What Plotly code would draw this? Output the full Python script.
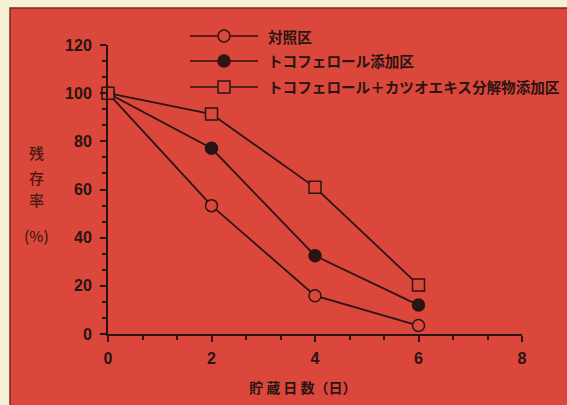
import plotly.graph_objects as go

days = [0, 2, 4, 6]
control = [100, 53.3, 15.9, 3.5]
toco = [100, 77.1, 32.5, 12.0]
toco_katsuo = [100, 91.3, 60.9, 20.3]
names = ["対照区", "トコフェロール添加区", "トコフェロール＋カツオエキス分解物添加区"]
x_ticks = [0, 2, 4, 6, 8]
y_ticks = [0, 20, 40, 60, 80, 100, 120]

RED = "#DB483B"
CREAM = "#F5F1D6"
INK = "#2a1414"
JP = "Noto Sans CJK JP"
NUM = "Liberation Sans"

W, H = 567, 405
X0, X1 = 108, 522   # plot area left/right in px
Y0, Y1 = 45, 334    # plot area top/bottom in px

def px_x(p):
    return p / W

def px_y(p):
    return 1 - p / H

fig = go.Figure()
series = [
    (control, names[0], "circle", RED),
    (toco, names[1], "circle", INK),
    (toco_katsuo, names[2], "square", RED),
]
for vals, nm, sym, fill in series:
    fig.add_trace(go.Scatter(
        x=days, y=vals, name=nm, mode="lines+markers", cliponaxis=False, showlegend=False,
        line=dict(color=INK, width=1.8),
        marker=dict(symbol=sym, size=12, color=fill, line=dict(color=INK, width=1.5)),
    ))

# legend keys drawn on a full-figure pixel-scaled axis pair
leg_rows = [36, 61, 87]
for (vals, nm, sym, fill), ry in zip(series, leg_rows):
    fig.add_trace(go.Scatter(
        x=[190, 258], y=[ry, ry], xaxis="x2", yaxis="y2", mode="lines", showlegend=False,
        hoverinfo="skip", line=dict(color=INK, width=1.5)))
    fig.add_trace(go.Scatter(
        x=[224], y=[ry], xaxis="x2", yaxis="y2", mode="markers", showlegend=False,
        hoverinfo="skip",
        marker=dict(symbol=sym, size=12, color=fill, line=dict(color=INK, width=1.5))))

shapes = [dict(type="rect", xref="paper", yref="paper", layer="below",
               x0=px_x(10), x1=px_x(575), y0=px_y(8), y1=px_y(412),
               fillcolor=RED, line=dict(color="#7a2a20", width=1.5))]

annotations = []
for ch, yy in [("残", 152), ("存", 177), ("率", 199), ("(%)", 235)]:
    annotations.append(dict(text=ch, xref="paper", yref="paper", x=px_x(36), y=px_y(yy),
                            showarrow=False, font=dict(family=JP, size=15, color="#4a1a14", weight=500),
                            xanchor="center", yanchor="middle"))
annotations.append(dict(text="貯 蔵 日 数（日）", xref="paper", yref="paper", x=px_x(303), y=px_y(387),
                        showarrow=False, font=dict(family=JP, size=14, color=INK, weight="bold"),
                        xanchor="center", yanchor="middle"))
for nm, ry in zip(names, leg_rows):
    annotations.append(dict(text=nm, xref="paper", yref="paper", x=px_x(266), y=px_y(ry),
                            showarrow=False, font=dict(family=JP, size=14.6, color=INK, weight="bold"),
                            xanchor="left", yanchor="middle"))

axis_common = dict(showgrid=False, zeroline=False, showline=True, linecolor=INK, linewidth=2,
                   ticks="outside", tickcolor=INK, tickwidth=1.5, ticklen=6, automargin=False,
                   tickfont=dict(family=NUM, size=16, color=INK, weight="bold"))

fig.update_layout(
    width=W, height=H, margin=dict(l=0, r=0, t=0, b=0, pad=0, autoexpand=False),
    paper_bgcolor=CREAM, plot_bgcolor="rgba(0,0,0,0)",
    shapes=shapes, annotations=annotations, showlegend=False,
    xaxis=dict(domain=[X0 / W, X1 / W], range=[0, 8], tickvals=x_ticks,
               ticktext=[str(v) for v in x_ticks], anchor="y", ticklabelstandoff=3,
               minor=dict(dtick=2/3, tick0=0, ticks="outside", ticklen=4, tickcolor=INK, tickwidth=1.5),
               **axis_common),
    yaxis=dict(domain=[1 - Y1 / H, 1 - Y0 / H], range=[0, 120], tickvals=y_ticks,
               ticktext=[str(v) for v in y_ticks], anchor="x", ticklabelstandoff=5,
               minor=dict(dtick=20/3, tick0=0, ticks="outside", ticklen=4, tickcolor=INK, tickwidth=1.5),
               **axis_common),
    xaxis2=dict(domain=[0, 1], range=[0, W], visible=False, fixedrange=True, anchor="y2"),
    yaxis2=dict(domain=[0, 1], range=[H, 0], visible=False, fixedrange=True, anchor="x2"),
)

fig.write_html("out.html", config={"displayModeBar": False},
               post_script="document.body.style.margin='0';document.body.style.overflow='hidden';")
